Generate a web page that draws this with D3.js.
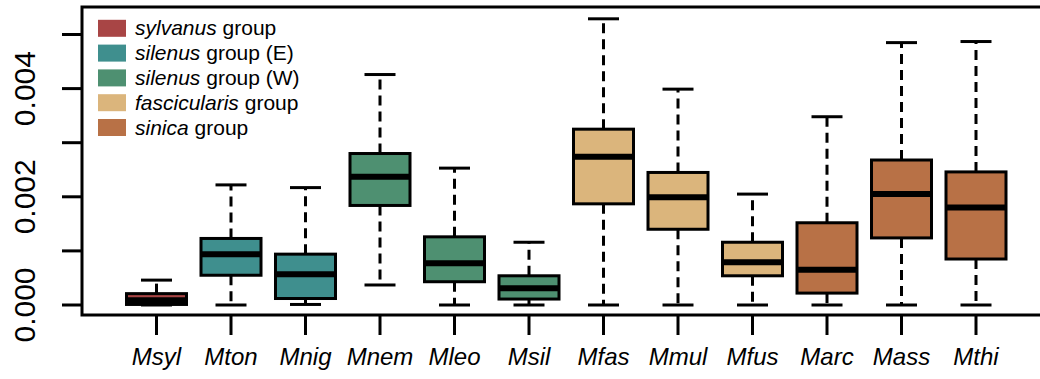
<!DOCTYPE html>
<html>
<head>
<meta charset="utf-8">
<script src="https://cdn.jsdelivr.net/npm/d3@7"></script>
<style>
  body { margin: 0; background: #fff; }
  text { font-family: "Liberation Sans", Arial, sans-serif; }
</style>
</head>
<body>
<div id="chart"></div>
<script>
// species on the x axis
let species = ["Msyl","Mton","Mnig","Mnem","Mleo","Msil","Mfas","Mmul","Mfus","Marc","Mass","Mthi"];
// which group each species belongs to (index into groups)
let speciesGroup = [0,1,1,2,2,2,3,3,3,4,4,4];

// five-number summaries
let whiskerLow = [0.00000,0.00000,0.00001,0.00037,0.00000,0.00000,0.00000,0.00000,0.00000,0.00000,0.00000,0.00000];
let q1         = [0.00001,0.00055,0.00012,0.00184,0.00043,0.00011,0.00187,0.00140,0.00054,0.00022,0.00124,0.00085];
let median     = [0.00009,0.00094,0.00057,0.00237,0.00077,0.00031,0.00274,0.00199,0.00079,0.00065,0.00205,0.00180];
let q3         = [0.00021,0.00123,0.00094,0.00280,0.00126,0.00054,0.00325,0.00245,0.00116,0.00152,0.00268,0.00246];
let whiskerHigh= [0.00046,0.00222,0.00217,0.00426,0.00253,0.00116,0.00529,0.00399,0.00205,0.00348,0.00485,0.00487];

// legend
let groups = ["sylvanus","silenus","silenus","fascicularis","sinica"];
let groupSuffix = [" group"," group (E)"," group (W)"," group"," group"];
let groupColors = ["#a84545","#3f8f8e","#4e9071","#dbb57c","#b87146"];

// y ticks
let yTicks = [0,0.001,0.002,0.003,0.004,0.005];
let yLabels = [0,0.002,0.004];

let W = 1040, H = 379;
let svg = d3.select("#chart").append("svg").attr("width", W).attr("height", H);

let step = 74.5;
let x = d3.scaleLinear().domain([0, 13]).range([82, 82 + 13*step]);
let y = d3.scaleLinear().domain([0, 0.005]).range([305, 34.5]);
let boxW = 60, capW = 31;

// plot frame
svg.append("rect")
  .attr("x", x(0)).attr("y", 7)
  .attr("width", x(13) - x(0)).attr("height", 315 - 7)
  .attr("fill", "none").attr("stroke", "#000").attr("stroke-width", 3);

// y axis ticks
svg.selectAll("line.ytick").data(yTicks).enter().append("line")
  .attr("class","ytick")
  .attr("x1", 62).attr("x2", x(0))
  .attr("y1", d=>y(d)).attr("y2", d=>y(d))
  .attr("stroke","#000").attr("stroke-width",3);

svg.selectAll("text.ylab").data(yLabels).enter().append("text")
  .attr("class","ylab")
  .attr("transform", d=>`translate(35,${y(d)}) rotate(-90)`)
  .attr("text-anchor","middle")
  .attr("font-size", 30)
  .text(d=>d3.format(".3f")(d));

// x axis ticks + labels
svg.selectAll("line.xtick").data(species).enter().append("line")
  .attr("class","xtick")
  .attr("x1",(d,i)=>x(i+1)).attr("x2",(d,i)=>x(i+1))
  .attr("y1",315).attr("y2",335)
  .attr("stroke","#000").attr("stroke-width",3);

svg.selectAll("text.xlab").data(species).enter().append("text")
  .attr("class","xlab")
  .attr("x",(d,i)=>x(i+1)).attr("y",365)
  .attr("text-anchor","middle")
  .attr("font-size",24)
  .attr("font-style","italic")
  .text(d=>d);

// boxes
let boxes = svg.selectAll("g.box").data(species).enter().append("g").attr("class","box");

// whiskers (dashed)
boxes.append("line")
  .attr("x1",(d,i)=>x(i+1)).attr("x2",(d,i)=>x(i+1))
  .attr("y1",(d,i)=>y(q3[i])).attr("y2",(d,i)=>y(whiskerHigh[i]))
  .attr("stroke","#000").attr("stroke-width",3).attr("stroke-dasharray","10,6");
boxes.append("line")
  .attr("x1",(d,i)=>x(i+1)).attr("x2",(d,i)=>x(i+1))
  .attr("y1",(d,i)=>y(q1[i])).attr("y2",(d,i)=>y(whiskerLow[i]))
  .attr("stroke","#000").attr("stroke-width",3).attr("stroke-dasharray","10,6");

// caps
[whiskerHigh, whiskerLow].forEach(arr=>{
  boxes.append("line")
    .attr("x1",(d,i)=>x(i+1)-capW/2).attr("x2",(d,i)=>x(i+1)+capW/2)
    .attr("y1",(d,i)=>y(arr[i])).attr("y2",(d,i)=>y(arr[i]))
    .attr("stroke","#000").attr("stroke-width",3);
});

boxes.append("rect")
  .attr("x",(d,i)=>x(i+1)-boxW/2)
  .attr("y",(d,i)=>y(q3[i]))
  .attr("width",boxW)
  .attr("height",(d,i)=>y(q1[i])-y(q3[i]))
  .attr("fill",(d,i)=>groupColors[speciesGroup[i]])
  .attr("stroke","#000").attr("stroke-width",3);

boxes.append("line")
  .attr("x1",(d,i)=>x(i+1)-boxW/2+1).attr("x2",(d,i)=>x(i+1)+boxW/2-1)
  .attr("y1",(d,i)=>y(median[i])).attr("y2",(d,i)=>y(median[i]))
  .attr("stroke","#000").attr("stroke-width",6);

// legend
let leg = svg.selectAll("g.leg").data(groups).enter().append("g")
  .attr("class","leg")
  .attr("transform",(d,i)=>`translate(0,${28.3 + i*24.8})`);
leg.append("rect")
  .attr("x",98).attr("y",-8.5).attr("width",28).attr("height",17)
  .attr("fill",(d,i)=>groupColors[i]);
let lt = leg.append("text").attr("x",135).attr("y",7).attr("font-size",21);
lt.append("tspan").attr("font-style","italic").text(d=>d);
lt.append("tspan").text((d,i)=>groupSuffix[i]);
</script>
</body>
</html>
